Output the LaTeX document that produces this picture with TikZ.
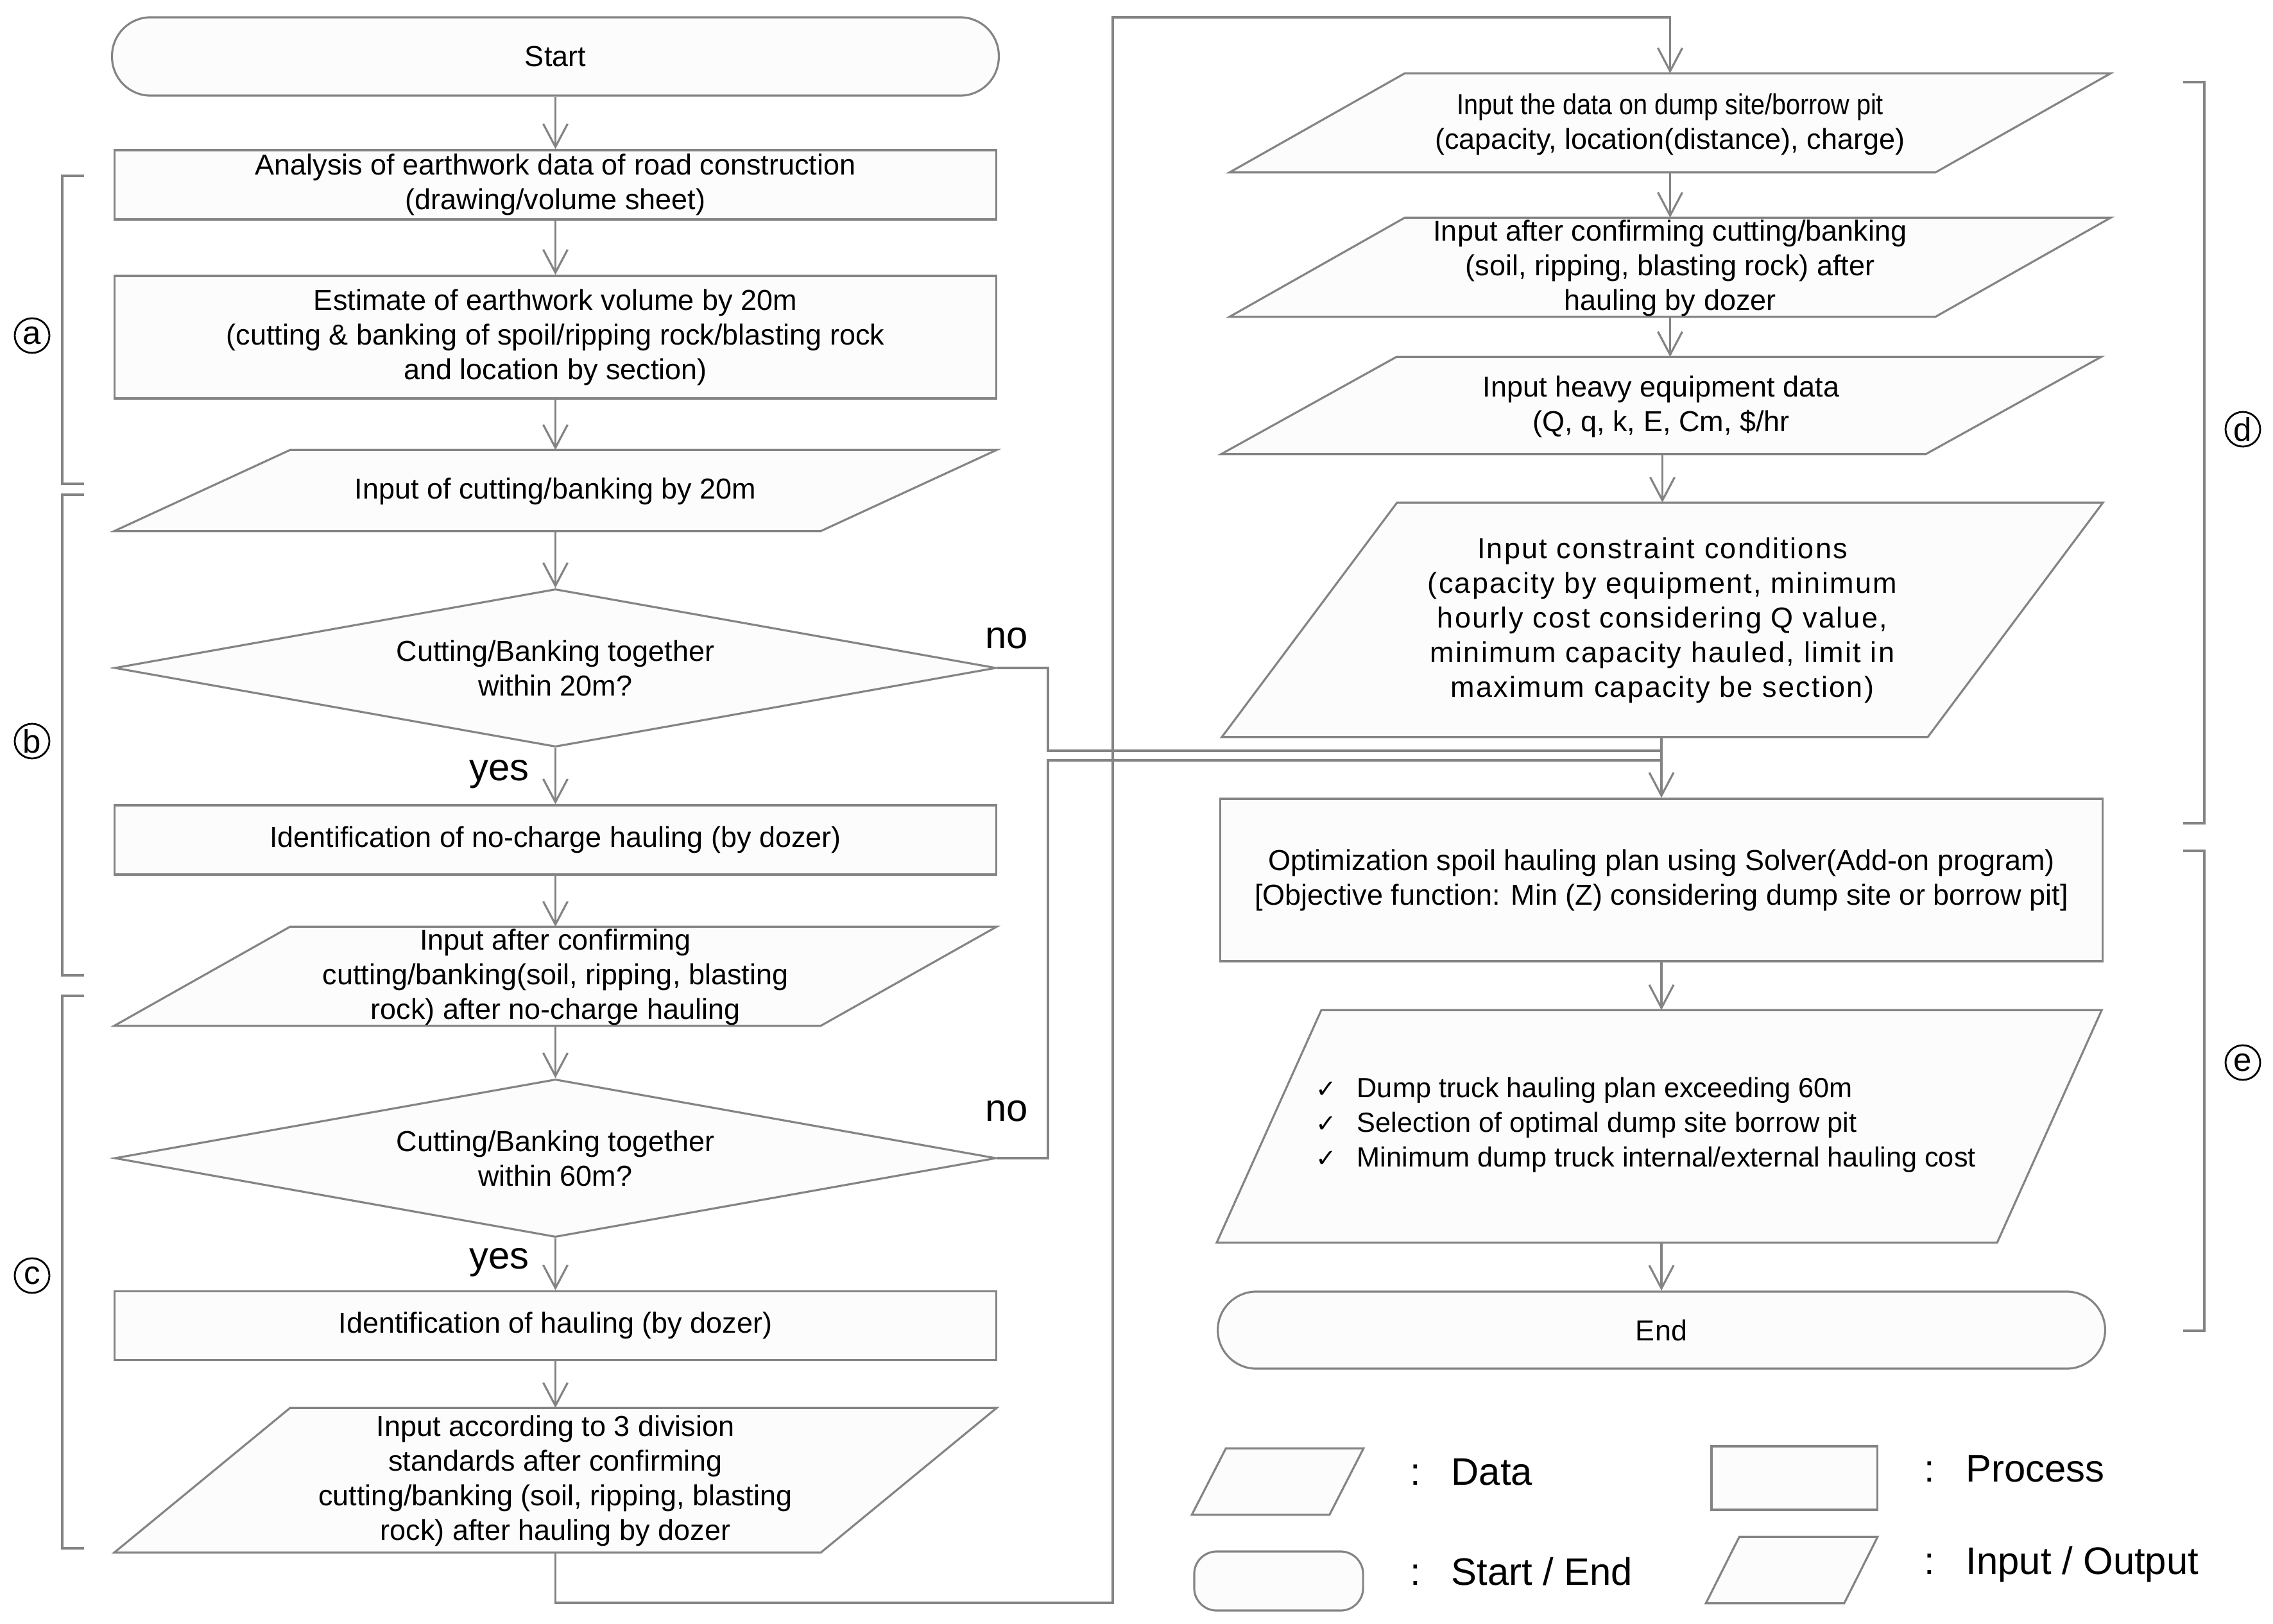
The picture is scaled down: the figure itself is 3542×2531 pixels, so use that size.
\documentclass[tikz,border=0pt]{standalone}
\usepackage{fontspec}
\setmainfont{Liberation Sans}
\newfontfamily\dvfont{DejaVu Sans}
\usepackage{graphicx}
\usetikzlibrary{shapes.geometric,arrows.meta}
\definecolor{lc}{RGB}{132,132,132}
\definecolor{fc}{RGB}{252,252,252}
\newcommand\mainsz{\fontsize{12.8}{15.37}\selectfont}
\newcommand\outsz{\fontsize{12.3}{15.37}\selectfont}
\newcommand\bigsz{\fontsize{17}{20}\selectfont}
\newcommand\circsz{\fontsize{14.5}{14.5}\selectfont}
\newcommand\chk{\makebox[0.64cm][l]{{\dvfont\fontsize{11}{12}\selectfont ✓}}}
\newcommand\parashape[2]{\draw[shp] ([xshift=#2]#1.north west) -- (#1.north east) -- ([xshift=-#2]#1.south east) -- (#1.south west) -- cycle;}
\tikzset{
  shp/.style={draw=lc, fill=fc, line width=0.9pt},
  box/.style={shp, rectangle, inner sep=0pt, align=center, font=\mainsz},
  term/.style={shp, rectangle, rounded corners=0.6cm, inner sep=0pt, font=\mainsz},
  dec/.style={shp, diamond, aspect=5.58, inner sep=0pt, align=center, font=\mainsz},
  frame/.style={rectangle, inner sep=0pt, draw=none},
  txt/.style={align=center, inner sep=0pt, font=\mainsz},
  arr/.style={draw=lc, line width=0.9pt, -{Straight Barb[length=0.36cm,width=0.38cm]}},
  con/.style={draw=lc, line width=0.9pt},
  brk/.style={draw=lc, line width=1.1pt},
  lbl/.style={inner sep=0pt, font=\bigsz},
  circ/.style={circle, draw=black, line width=0.8pt, minimum size=0.54cm, inner sep=0pt, font=\circsz},
}
\begin{document}
\begin{tikzpicture}[x=0.01cm, y=-0.01cm]
\useasboundingbox (0,0) rectangle (3542,2531);

% ---------- left column ----------
\node[term, minimum width=13.81cm, minimum height=1.22cm] (start) at (865.5,88) {Start};
\node[box, minimum width=13.73cm, minimum height=1.08cm] (ana) at (865.5,288) {Analysis of earthwork data of road construction\\(drawing/volume sheet)};
\node[box, minimum width=13.73cm, minimum height=1.91cm] (est) at (865.5,525.5) {Estimate of earthwork volume by 20m\\(cutting \& banking of spoil/ripping rock/blasting rock\\and location by section)};
\node[frame, minimum width=13.73cm, minimum height=1.25cm] (in20) at (865.5,764.5) {};
\parashape{in20}{2.74cm}
\node[txt] (in20t) at (865.5,766) {Input of cutting/banking by 20m};
\node[dec, minimum width=13.73cm, minimum height=2.46cm] (d20) at (865.5,1041) {Cutting/Banking together\\within 20m?};
\node[box, minimum width=13.73cm, minimum height=1.08cm] (noch) at (865.5,1309) {Identification of no-charge hauling (by dozer)};
\node[frame, minimum width=13.73cm, minimum height=1.53cm] (in2) at (865.5,1521.5) {};
\parashape{in2}{2.74cm}
\node[txt] (in2t) at (865.5,1523) {Input after confirming\\cutting/banking(soil, ripping, blasting\\rock) after no-charge hauling};
\node[dec, minimum width=13.73cm, minimum height=2.46cm] (d60) at (865.5,1805) {Cutting/Banking together\\within 60m?};
\node[box, minimum width=13.73cm, minimum height=1.07cm] (haul) at (865.5,2066) {Identification of hauling (by dozer)};
\node[frame, minimum width=13.73cm, minimum height=2.24cm] (in3) at (865.5,2307) {};
\parashape{in3}{2.74cm}
\node[txt] (in3t) at (865.5,2308) {Input according to 3 division\\standards after confirming\\cutting/banking (soil, ripping, blasting\\rock) after hauling by dozer};

% ---------- right column ----------
\node[frame, minimum width=13.71cm, minimum height=1.53cm] (p1) at (2602.5,191.5) {};
\parashape{p1}{2.73cm}
\node[txt] (p1t) at (2602.5,194) {\scalebox{0.88}[1]{Input the data on dump site/borrow pit}\\(capacity, location(distance), charge)};
\node[frame, minimum width=13.71cm, minimum height=1.53cm] (p2) at (2602.5,416.5) {};
\parashape{p2}{2.73cm}
\node[txt] (p2t) at (2602.5,418) {Input after confirming cutting/banking\\(soil, ripping, blasting rock) after\\hauling by dozer};
\node[frame, minimum width=13.69cm, minimum height=1.50cm] (p3) at (2588.5,632) {};
\parashape{p3}{2.73cm}
\node[txt] (p3t) at (2588.5,634) {Input heavy equipment data\\(Q, q, k, E, Cm, \$/hr};
\node[frame, minimum width=13.71cm, minimum height=3.64cm] (p4) at (2590.5,966) {};
\parashape{p4}{2.73cm}
\node[txt, font={\mainsz\addfontfeatures{LetterSpace=5}}] (p4t) at (2590.5,967) {Input constraint conditions\\(capacity by equipment, minimum\\hourly cost considering Q value,\\minimum capacity hauled, limit in\\maximum capacity be section)};
\node[box, minimum width=13.74cm, minimum height=2.53cm] (opt) at (2589,1371.5) {Optimization spoil hauling plan using Solver(Add-on program)\\{[}Objective function: Min (Z) considering dump site or borrow pit{]}};
\node[frame, minimum width=13.77cm, minimum height=3.61cm] (out) at (2585.5,1755.5) {};
\parashape{out}{1.63cm}
\node[txt, align=left, anchor=west, font=\outsz] (outt) at (2050,1753) {\chk Dump truck hauling plan exceeding 60m\\\chk Selection of optimal dump site borrow pit\\\chk Minimum dump truck internal/external hauling cost};
\node[term, minimum width=13.82cm, minimum height=1.20cm] (end) at (2589,2073) {End};

% ---------- connectors ----------
\draw[arr] (start) -- (ana);
\draw[arr] (ana) -- (est);
\draw[arr] (est) -- (in20);
\draw[arr] (in20) -- (d20);
\draw[arr] (d20) -- (noch);
\draw[arr] (noch) -- (in2);
\draw[arr] (in2) -- (d60);
\draw[arr] (d60) -- (haul);
\draw[arr] (haul) -- (in3);

\coordinate (lb) at (865.5,2498);
\coordinate (lt) at (1734,27);
\draw[arr] (in3.south) -- (lb) -| (lt) -| (p1.north);

\draw[arr] (p1) -- (p2);
\draw[arr] (p2.south) -- (p2.south |- p3.north);
\draw[arr] (p4.north |- p3.south) -- (p4.north);
\draw[arr] (opt.north |- p4.south) -- (opt.north);
\draw[arr] (opt.south) -- (opt.south |- out.north);
\draw[arr] (end.north |- out.south) -- (end.north);

\coordinate (m1) at (1633,1170);
\coordinate (m2) at (1633,1185);
\draw[con] (d20.east) -| (m1) -- (m1 -| opt.north);
\draw[con] (d60.east) -| (m2) -- (m2 -| opt.north);

\node[lbl, anchor=base west] (no1) at (1535,1010) {no};
\node[lbl, anchor=base west] (no2) at (1535,1747) {no};
\node[lbl, anchor=base] (yes1) at (778,1216) {yes};
\node[lbl, anchor=base] (yes2) at (778,1977) {yes};

% ---------- brackets ----------
\draw[brk] (131,274) -- (97,274) -- (97,754) -- (131,754);
\draw[brk] (131,771) -- (97,771) -- (97,1520) -- (131,1520);
\draw[brk] (131,1552) -- (97,1552) -- (97,2413) -- (131,2413);
\draw[brk] (3402,128) -- (3435,128) -- (3435,1283) -- (3402,1283);
\draw[brk] (3402,1326) -- (3435,1326) -- (3435,2074) -- (3402,2074);
\node[circ] (ca) at (50,523) {a};
\node[circ] (cb) at (50,1155) {b};
\node[circ] (cc) at (50,1988) {c};
\node[circ] (cd) at (3495,669) {d};
\node[circ] (ce) at (3495,1656) {e};

% ---------- legend ----------
\node[frame, minimum width=2.66cm, minimum height=1.02cm] (lgdata) at (1991,2309) {};
\parashape{lgdata}{0.53cm}
\node[term, rounded corners=0.35cm, minimum width=2.63cm, minimum height=0.92cm] (lgterm) at (1992.5,2464) {};
\node[box, minimum width=2.58cm, minimum height=0.99cm] (lgproc) at (2796,2303.5) {};
\node[frame, minimum width=2.66cm, minimum height=1.02cm] (lgio) at (2792,2447) {};
\parashape{lgio}{0.52cm}
\node[lbl, anchor=base west] (lgc1) at (2197,2314) {:};
\node[lbl, anchor=base west] (lgt1) at (2261,2314) {Data};
\node[lbl, anchor=base west] (lgc2) at (2197,2470) {:};
\node[lbl, anchor=base west] (lgt2) at (2261,2470) {Start / End};
\node[lbl, anchor=base west] (lgc3) at (2998,2309) {:};
\node[lbl, anchor=base west] (lgt3) at (3063,2309) {Process};
\node[lbl, anchor=base west] (lgc4) at (2998,2453) {:};
\node[lbl, anchor=base west] (lgt4) at (3063,2453) {Input / Output};
\end{tikzpicture}
\end{document}
